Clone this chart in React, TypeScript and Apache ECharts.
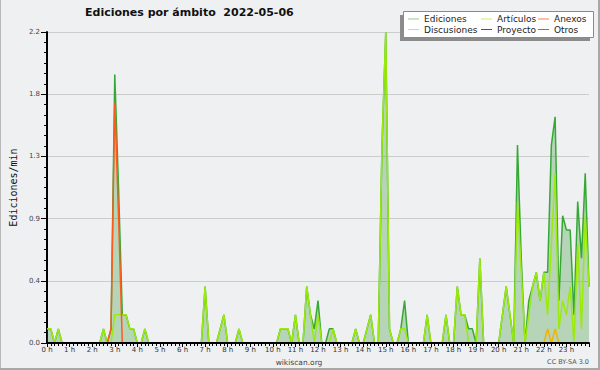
import React, { useEffect, useRef } from 'react';
import * as echarts from 'echarts';

const TITLE = 'Ediciones por ámbito  2022-05-06';
const Y_NAME = 'Ediciones/min';
const SOURCE = 'wikiscan.org';
const LICENSE = 'CC BY-SA 3.0';

// 10-minute bins, 00:00 .. 24:00 (edits per minute)
const binMinutes = 10;

const ediciones = [
  0.1, 0.1, 0, 0.1, 0, 0, 0, 0, 0, 0, 0, 0,
  0, 0, 0, 0.1, 0, 0.1, 1.9, 1.1, 0.2, 0.2, 0.1, 0.1,
  0, 0, 0.1, 0, 0, 0, 0, 0, 0, 0, 0, 0,
  0, 0, 0, 0, 0, 0, 0.4, 0, 0, 0, 0.1, 0.2,
  0, 0, 0, 0.1, 0, 0, 0, 0, 0, 0, 0, 0,
  0, 0, 0.1, 0.1, 0.1, 0, 0.2, 0, 0, 0.4, 0.2, 0.1,
  0.3, 0, 0, 0.1, 0.1, 0, 0, 0, 0, 0, 0.1, 0,
  0, 0.1, 0.2, 0, 0, 1.4, 2.2, 0.1, 0, 0, 0.1, 0.3,
  0, 0, 0, 0, 0, 0.2, 0, 0, 0, 0, 0.2, 0,
  0, 0.4, 0.2, 0.2, 0.1, 0.1, 0, 0.6, 0, 0, 0, 0,
  0, 0.2, 0.4, 0.2, 0, 1.4, 0.6, 0, 0.3, 0.4, 0.5, 0.3,
  0.5, 0.5, 1.4, 1.6, 0.3, 0.9, 0.8, 0.8, 0.2, 1.0, 0.6, 1.2,
  0.4,
];

const articulos = [
  0.1, 0.1, 0, 0.1, 0, 0, 0, 0, 0, 0, 0, 0,
  0, 0, 0, 0.1, 0, 0, 0.2, 0.2, 0.2, 0.2, 0.1, 0.1,
  0, 0, 0.1, 0, 0, 0, 0, 0, 0, 0, 0, 0,
  0, 0, 0, 0, 0, 0, 0.4, 0, 0, 0, 0.1, 0.2,
  0, 0, 0, 0.1, 0, 0, 0, 0, 0, 0, 0, 0,
  0, 0, 0.1, 0.1, 0.1, 0, 0.2, 0, 0, 0.4, 0.2, 0,
  0.2, 0, 0, 0, 0.1, 0, 0, 0, 0, 0, 0.1, 0,
  0, 0.1, 0.2, 0, 0, 1.4, 2.2, 0.1, 0, 0, 0.1, 0.1,
  0, 0, 0, 0, 0, 0.2, 0, 0, 0, 0, 0.2, 0,
  0, 0.4, 0.2, 0.2, 0, 0, 0, 0.6, 0, 0, 0, 0,
  0, 0.2, 0.4, 0.2, 0, 1.0, 0.5, 0, 0.2, 0.4, 0.5, 0.3,
  0.5, 0.2, 0.7, 1.2, 0.1, 0.3, 0.2, 0.4, 0, 0.7, 0.1, 0.9,
  0.4,
];

const anexos = [
  0, 0, 0, 0, 0, 0, 0, 0, 0, 0, 0, 0,
  0, 0, 0, 0, 0, 0.1, 1.7, 0.9, 0, 0, 0, 0,
  0, 0, 0, 0, 0, 0, 0, 0, 0, 0, 0, 0,
  0, 0, 0, 0, 0, 0, 0, 0, 0, 0, 0, 0,
  0, 0, 0, 0, 0, 0, 0, 0, 0, 0, 0, 0,
  0, 0, 0, 0, 0, 0, 0, 0, 0, 0, 0, 0,
  0, 0, 0, 0, 0, 0, 0, 0, 0, 0, 0, 0,
  0, 0, 0, 0, 0, 0, 0, 0, 0, 0, 0, 0,
  0, 0, 0, 0, 0, 0, 0, 0, 0, 0, 0, 0,
  0, 0, 0, 0, 0, 0, 0, 0, 0, 0, 0, 0,
  0, 0, 0, 0, 0, 0, 0, 0, 0, 0, 0, 0,
  0, 0, 0, 0, 0, 0, 0, 0, 0, 0, 0, 0,
  0,
];

const discusiones = [
  0, 0, 0, 0, 0, 0, 0, 0, 0, 0, 0, 0,
  0, 0, 0, 0, 0, 0, 0, 0, 0, 0, 0, 0,
  0, 0, 0, 0, 0, 0, 0, 0, 0, 0, 0, 0,
  0, 0, 0, 0, 0, 0, 0, 0, 0, 0, 0, 0,
  0, 0, 0, 0, 0, 0, 0, 0, 0, 0, 0, 0,
  0, 0, 0, 0, 0, 0, 0, 0, 0, 0, 0, 0,
  0, 0, 0, 0, 0, 0, 0, 0, 0, 0, 0, 0,
  0, 0, 0, 0, 0, 0, 0, 0, 0, 0, 0, 0,
  0, 0, 0, 0, 0, 0, 0, 0, 0, 0, 0, 0,
  0, 0, 0, 0, 0, 0, 0, 0, 0, 0, 0, 0,
  0, 0, 0, 0, 0, 0, 0, 0, 0, 0, 0, 0,
  0, 0.1, 0, 0.1, 0, 0, 0, 0, 0, 0, 0, 0,
  0,
];

const proyecto: number[] = [];
const otros: number[] = [];

const yMax = 2.2;
const yStep = 0.44;

const toPairs = (arr: number[]) => arr.map((v, i) => [(i * binMinutes) / 60, v]);

const FONT = 'DejaVu Sans';

const LEGEND_COLORS: Record<string, string> = {
  Ediciones: '#8fd08f',
  'Artículos': '#c9f060',
  Anexos: '#f58050',
  Discusiones: '#f6d25a',
  Proyecto: '#555555',
  Otros: '#9a50f0',
};

export default function App() {
  const ref = useRef<HTMLDivElement>(null);

  useEffect(() => {
    if (!ref.current) return;
    const chart = echarts.init(ref.current, null, { renderer: 'svg' });

    const legendItem = (name: string) => ({
      name,
      icon: 'rect',
      itemStyle: { color: LEGEND_COLORS[name], borderWidth: 0, opacity: 1 },
      lineStyle: { color: LEGEND_COLORS[name], width: 0, opacity: 0 },
    });

    const legendCommon: any = {
      orient: 'vertical',
      icon: 'rect',
      itemWidth: 11,
      itemHeight: 1,
      itemGap: 0.5,
      padding: 0,
      selectedMode: false,
      z: 12,
      textStyle: { fontFamily: FONT, fontSize: 9, color: '#222', lineHeight: 10 },
    };

    const lineSeries = (name: string, values: number[], lineColor: string, z: number, extra: any = {}) => ({
      name,
      type: 'line',
      color: LEGEND_COLORS[name],
      data: toPairs(values),
      showSymbol: false,
      lineStyle: { color: lineColor, width: 1.5 },
      itemStyle: { color: LEGEND_COLORS[name] },
      z,
      ...extra,
    });

    const option: any = {
      animation: false,
      backgroundColor: '#eff0f1',
      title: {
        text: TITLE,
        left: 85,
        top: 7,
        padding: 0,
        textStyle: { fontFamily: FONT, fontWeight: 'bold', fontSize: 11, color: '#111' },
      },
      legend: [
        { ...legendCommon, left: 408, top: 14, data: [legendItem('Ediciones'), legendItem('Discusiones')] },
        { ...legendCommon, left: 481, top: 14, data: [legendItem('Artículos'), legendItem('Proyecto')] },
        { ...legendCommon, left: 538, top: 14, data: [legendItem('Anexos'), legendItem('Otros')] },
      ],
      grid: { left: 46, right: 11, top: 32, bottom: 27 },
      xAxis: {
        type: 'value',
        min: 0,
        max: 24,
        interval: 1,
        z: 10,
        axisLine: { lineStyle: { color: '#000', width: 2 } },
        axisTick: { length: 4, lineStyle: { color: '#000', width: 1 } },
        minorTick: { show: true, splitNumber: 6, length: 3, lineStyle: { color: '#000', width: 1 } },
        splitLine: { show: false },
        axisLabel: {
          showMaxLabel: false,
          margin: 3,
          fontFamily: FONT,
          fontSize: 7,
          color: '#333',
          formatter: (v: number) => `${v} h`,
        },
      },
      yAxis: {
        type: 'value',
        min: 0,
        max: yMax,
        interval: yStep,
        name: Y_NAME,
        nameLocation: 'middle',
        nameGap: 29,
        nameTextStyle: { fontFamily: 'DejaVu Sans Mono', fontSize: 10, color: '#111' },
        axisLine: { show: true, lineStyle: { color: '#000', width: 2 } },
        axisTick: { show: true, length: 6, lineStyle: { color: '#000', width: 1 } },
        minorTick: { show: true, splitNumber: 6, length: 3, lineStyle: { color: '#000', width: 1 } },
        splitLine: { show: true, lineStyle: { color: '#cccccc', width: 1 } },
        axisLabel: {
          margin: 7,
          fontFamily: FONT,
          fontSize: 7,
          color: '#444',
          formatter: (v: number) => v.toFixed(1),
        },
      },
      series: [
        lineSeries('Ediciones', ediciones, '#36a836', 2, { areaStyle: { color: 'rgba(34,139,34,0.39)' } }),
        lineSeries('Artículos', articulos, '#9bea0c', 3),
        lineSeries('Anexos', anexos, '#ff5a1e', 4),
        lineSeries('Discusiones', discusiones, '#f2b200', 4),
        lineSeries('Proyecto', proyecto, '#555555', 4),
        lineSeries('Otros', otros, '#9a50f0', 4),
      ],
      graphic: [
        { type: 'rect', z: 10, shape: { x: 400, y: 15, width: 190, height: 26 }, style: { fill: '#8c8c8c' } },
        {
          type: 'rect',
          z: 11,
          shape: { x: 403.5, y: 11.5, width: 190, height: 26 },
          style: { fill: '#ffffff', stroke: '#8a8a8a', lineWidth: 1 },
        },
        {
          type: 'text',
          z: 11,
          x: 299,
          y: 362,
          style: { text: SOURCE, fontFamily: FONT, fontSize: 7.5, fill: '#444', align: 'center', verticalAlign: 'middle' },
        },
        {
          type: 'text',
          z: 11,
          x: 589,
          y: 362,
          style: { text: LICENSE, fontFamily: FONT, fontSize: 6.5, fill: '#555', align: 'right', verticalAlign: 'middle' },
        },
        { type: 'line', z: 11, shape: { x1: 0.5, y1: 0, x2: 0.5, y2: 370 }, style: { stroke: '#b8b8b8', lineWidth: 1 } },
        { type: 'line', z: 11, shape: { x1: 599, y1: 0, x2: 599, y2: 370 }, style: { stroke: '#a8a8a8', lineWidth: 2 } },
        { type: 'line', z: 11, shape: { x1: 0, y1: 369, x2: 600, y2: 369 }, style: { stroke: '#a8a8a8', lineWidth: 2 } },
      ],
    };

    chart.setOption(option);
    return () => chart.dispose();
  }, []);

  return (
    <div
      ref={ref}
      style={{ position: 'absolute', left: 0, top: 0, width: 600, height: 370 }}
    />
  );
}
